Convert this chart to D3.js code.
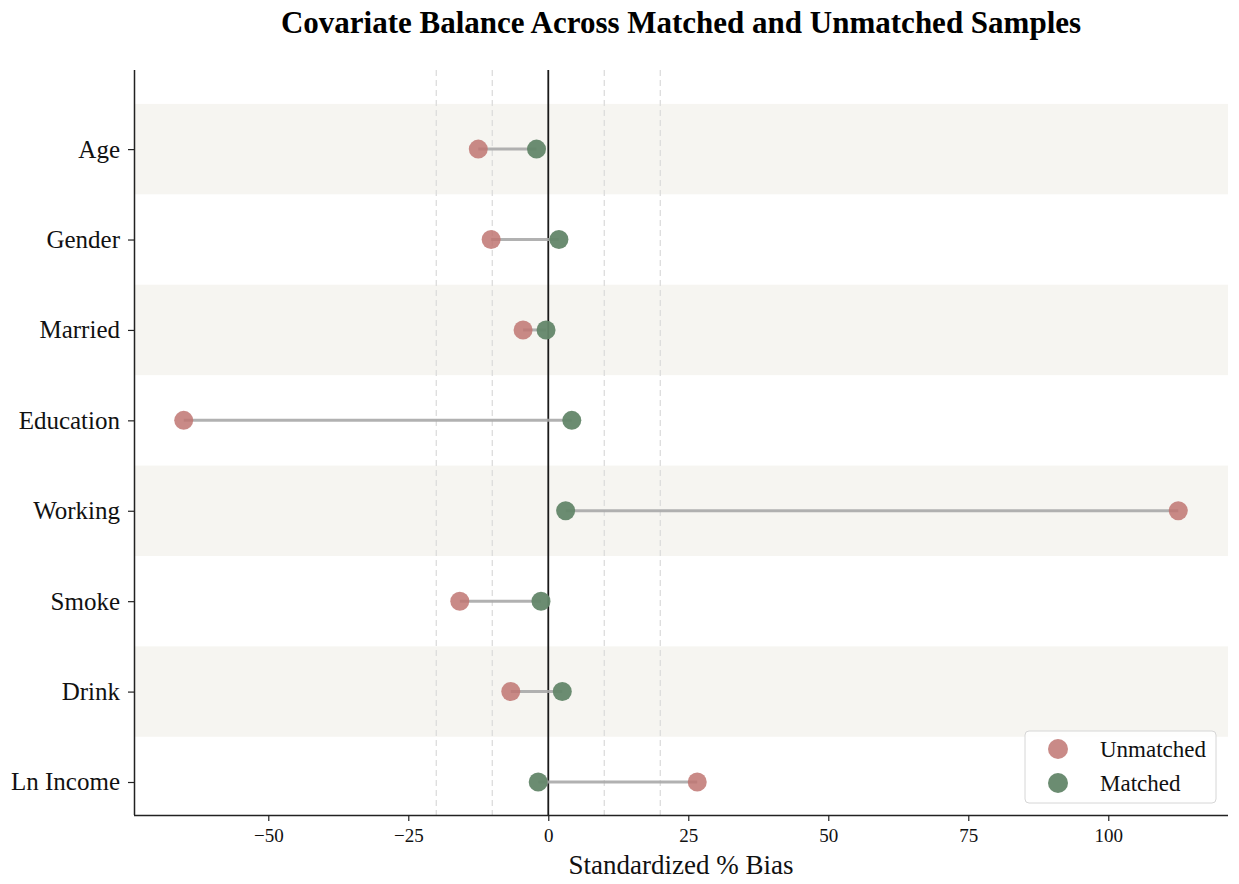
<!DOCTYPE html>
<html>
<head>
<meta charset="utf-8">
<script src="https://cdn.jsdelivr.net/npm/d3@7"></script>
<style>
  body { margin: 0; background: #fff; }
  svg { font-family: "Liberation Serif", "Times New Roman", serif; }
</style>
</head>
<body>
<div id="chart"></div>
<script>
// covariates, top to bottom
const covariates = ["Age", "Gender", "Married", "Education", "Working", "Smoke", "Drink", "Ln Income"];
// standardized % bias before / after matching
const unmatched = [-12.5, -10.2, -4.5, -65.1, 112.5, -15.8, -6.7, 26.6];
const matched = [-2.1, 1.9, -0.4, 4.2, 3.1, -1.3, 2.5, -1.8];
const xTicks = [-50, -25, 0, 25, 50, 75, 100];
const refLines = [-20, -10, 10, 20];
const legendItems = [
  { label: "Unmatched", color: "#bf7572" },
  { label: "Matched", color: "#638669" }
];

const W = 1239, H = 884;
const margin = { top: 70, right: 11, bottom: 69, left: 134 };
const width = W - margin.left - margin.right;
const height = H - margin.top - margin.bottom;

const svg = d3.select("#chart").append("svg")
  .attr("width", W)
  .attr("height", H);

const g = svg.append("g")
  .attr("transform", "translate(" + margin.left + "," + margin.top + ")");

// x range with matplotlib-like 5% padding
const lo = d3.min(unmatched.concat(matched)), hi = d3.max(unmatched.concat(matched));
const pad = (hi - lo) * 0.05;
const x = d3.scaleLinear().domain([lo - pad, hi + pad]).range([0, width]);
const y = d3.scaleLinear().domain([-0.875, covariates.length - 1 + 0.365]).range([0, height]);

// alternating row bands
g.selectAll(".band")
  .data(covariates.filter((d, i) => i % 2 === 0))
  .enter()
  .append("rect")
    .attr("class", "band")
    .attr("x", 0)
    .attr("width", width)
    .attr("y", d => y(covariates.indexOf(d) - 0.5))
    .attr("height", y(1) - y(0))
    .attr("fill", "#f6f5f1");

// dashed reference lines
g.selectAll(".ref")
  .data(refLines)
  .enter()
  .append("line")
    .attr("x1", d => x(d)).attr("x2", d => x(d))
    .attr("y1", 0).attr("y2", height)
    .attr("stroke", "#dcdcdc")
    .attr("stroke-width", 1.3)
    .attr("stroke-dasharray", "6,4");

// zero line
g.append("line")
  .attr("x1", x(0)).attr("x2", x(0))
  .attr("y1", 0).attr("y2", height)
  .attr("stroke", "#1a1a1a")
  .attr("stroke-width", 1.8);

// connectors
g.selectAll(".conn")
  .data(covariates)
  .enter()
  .append("line")
    .attr("x1", (d, i) => x(unmatched[i]))
    .attr("x2", (d, i) => x(matched[i]))
    .attr("y1", (d, i) => y(i))
    .attr("y2", (d, i) => y(i))
    .attr("stroke", "#a8a8a8")
    .attr("stroke-opacity", 0.9)
    .attr("stroke-width", 3);

// dots
g.selectAll(".dotU")
  .data(unmatched)
  .enter()
  .append("circle")
    .attr("cx", d => x(d))
    .attr("cy", (d, i) => y(i))
    .attr("r", 9.5)
    .attr("fill", legendItems[0].color)
    .attr("fill-opacity", 0.85);

g.selectAll(".dotM")
  .data(matched)
  .enter()
  .append("circle")
    .attr("cx", d => x(d))
    .attr("cy", (d, i) => y(i))
    .attr("r", 9.5)
    .attr("fill", legendItems[1].color)
    .attr("fill-opacity", 0.95);

// axes
const xAxis = g.append("g")
  .attr("transform", "translate(0," + height + ")")
  .call(d3.axisBottom(x).tickValues(xTicks).tickSize(6).tickPadding(8)
    .tickFormat(d => d < 0 ? "\u2212" + Math.abs(d) : d));
xAxis.select(".domain").attr("stroke", "#222").attr("stroke-width", 1.5)
  .attr("d", "M0,0.5H" + width);
xAxis.selectAll(".tick line").attr("stroke", "#222").attr("stroke-width", 1.2);
xAxis.selectAll("text").attr("fill", "#111")
  .style("font-family", "Liberation Serif").style("font-size", "19px");

const yAxis = g.append("g")
  .call(d3.axisLeft(y).tickValues(d3.range(covariates.length)).tickSize(6).tickPadding(8)
    .tickFormat(i => covariates[i]));
yAxis.select(".domain").attr("stroke", "#222").attr("stroke-width", 1.5)
  .attr("d", "M0.5,0V" + height);
yAxis.selectAll(".tick line").attr("stroke", "#222").attr("stroke-width", 1.2);
yAxis.selectAll("text").attr("fill", "#111")
  .style("font-family", "Liberation Serif").style("font-size", "25px");

// title and axis label
svg.append("text")
  .attr("x", margin.left + width / 2)
  .attr("y", 33)
  .attr("text-anchor", "middle")
  .style("font-size", "31px")
  .style("font-weight", "bold")
  .attr("fill", "#000")
  .text("Covariate Balance Across Matched and Unmatched Samples");

svg.append("text")
  .attr("x", margin.left + width / 2)
  .attr("y", 874)
  .attr("text-anchor", "middle")
  .style("font-size", "27px")
  .attr("fill", "#111")
  .text("Standardized % Bias");

// legend
const lg = g.append("g")
  .attr("transform", "translate(" + (width - 203) + "," + (height - 84) + ")");
lg.append("rect")
  .attr("width", 191).attr("height", 72)
  .attr("rx", 4)
  .attr("fill", "#fff").attr("fill-opacity", 0.85)
  .attr("stroke", "#d6d6d6");
const li = lg.selectAll(".li")
  .data(legendItems)
  .enter()
  .append("g")
    .attr("transform", (d, i) => "translate(0," + (18 + i * 34) + ")");
li.append("circle")
  .attr("cx", 33).attr("cy", 0).attr("r", 10)
  .attr("fill", d => d.color)
  .attr("fill-opacity", (d, i) => i === 0 ? 0.85 : 0.95);
li.append("text")
  .attr("x", 75).attr("y", 0).attr("dy", "0.35em")
  .style("font-size", "23px")
  .attr("fill", "#111")
  .text(d => d.label);
</script>
</body>
</html>
